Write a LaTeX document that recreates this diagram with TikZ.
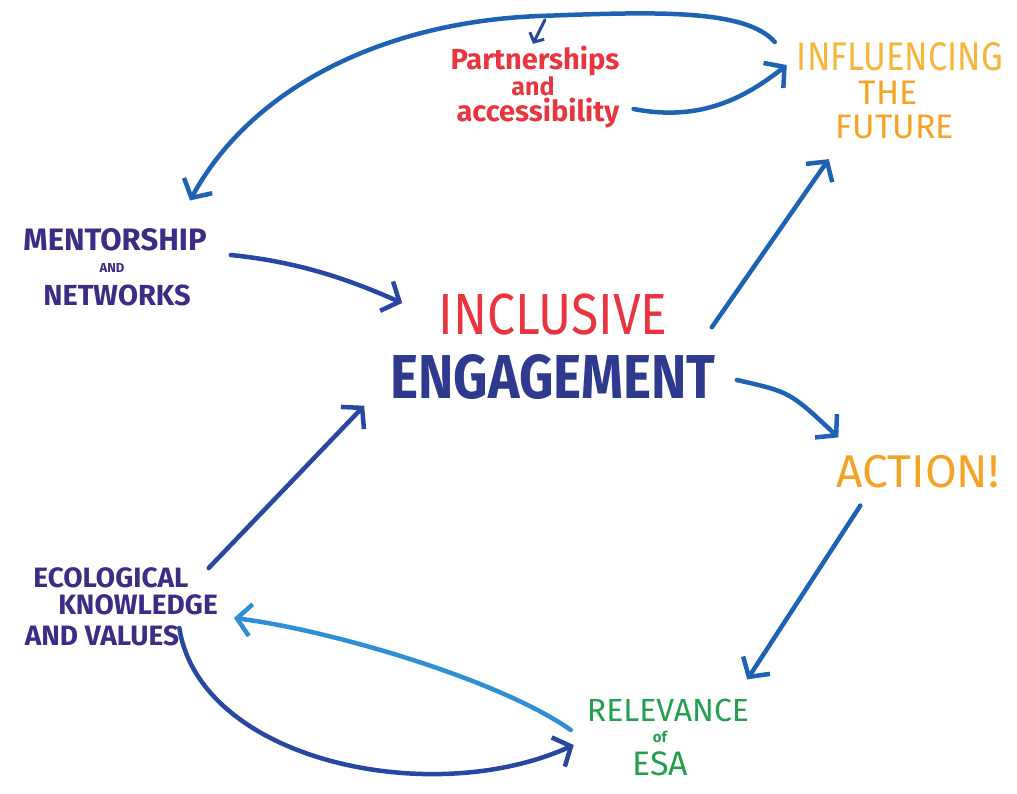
\documentclass[tikz,border=0pt]{standalone}
\usepackage{fontspec}
\newfontfamily\mano[FakeStretch=0.86]{Fira Sans}
\newfontfamily\letra{Fira Sans}
\usetikzlibrary{arrows.meta}

\definecolor{rojo}{HTML}{E8353F}
\definecolor{naranja}{HTML}{F4A425}
\definecolor{amarillo}{HTML}{F5B63C}
\definecolor{morado}{HTML}{3B2C85}
\definecolor{azulosc}{HTML}{2E3A8E}
\definecolor{verde}{HTML}{22A04C}
\definecolor{azul}{HTML}{1E62B4}
\definecolor{azulmed}{HTML}{2747A2}
\definecolor{celeste}{HTML}{2E8FD6}

\tikzset{
  texto/.style={inner sep=0pt},
  flecha/.style={line width=4.5pt, line cap=round, azul,
    -{Straight Barb[length=14pt,width=32pt]}},
}

\begin{document}
\begin{tikzpicture}[x=1pt,y=-1pt]
\useasboundingbox (0,0) rectangle (1017,794);

% Centro
\node[texto, rojo, font=\mano\fontsize{58}{58}\selectfont] (incl) at (553,315) {INCLUSIVE};
\node[texto, azulosc, font=\mano\bfseries\fontsize{62}{62}\selectfont] (eng) at (553,377) {ENGAGEMENT};

% Etiquetas
\node[texto, rojo, font=\letra\bfseries\fontsize{29}{29}\selectfont] (part1) at (535,61) {Partnerships};
\node[texto, rojo, font=\letra\bfseries\fontsize{25}{25}\selectfont] (part2) at (533,86) {and};
\node[texto, rojo, font=\letra\bfseries\fontsize{29}{29}\selectfont] (part3) at (538,113) {accessibility};

\node[texto, amarillo, font=\mano\fontsize{40}{40}\selectfont] (inf1) at (900,57) {INFLUENCING};
\node[texto, naranja, font=\letra\fontsize{34}{34}\selectfont] (inf2) at (888,93) {THE};
\node[texto, naranja, font=\letra\fontsize{34}{34}\selectfont] (inf3) at (895,127) {FUTURE};

\node[texto, morado, font=\letra\bfseries\fontsize{31}{31}\selectfont] (ment1) at (115,240) {MENTORSHIP};
\node[texto, morado, font=\letra\bfseries\fontsize{13}{13}\selectfont] (ment2) at (112,268) {AND};
\node[texto, morado, font=\letra\bfseries\fontsize{29}{29}\selectfont] (ment3) at (117,295) {NETWORKS};

\node[texto, naranja, font=\letra\fontsize{46}{46}\selectfont] (acc) at (918,472) {ACTION!};

\node[texto, morado, font=\letra\bfseries\fontsize{28}{28}\selectfont] (eco1) at (111,578) {ECOLOGICAL};
\node[texto, morado, font=\letra\bfseries\fontsize{28}{28}\selectfont] (eco2) at (138,605) {KNOWLEDGE};
\node[texto, morado, font=\letra\bfseries\fontsize{28}{28}\selectfont] (eco3) at (102,636) {AND VALUES};

\node[texto, verde, font=\letra\fontsize{32}{32}\selectfont] (rel1) at (668,710) {RELEVANCE};
\node[texto, verde, font=\letra\bfseries\fontsize{15}{15}\selectfont] (rel2) at (660,737) {of};
\node[texto, verde, font=\letra\fontsize{34}{34}\selectfont] (rel3) at (660,764) {ESA};

% Flechas
\draw[flecha] ([shift={(-22,-15)}]inf1.west) .. controls (745,8) and (650,12) .. (540,16)
  .. controls (380,22) and (250,90) .. ([shift={(75,-28)}]ment1.north);
\draw[flecha, azulmed, line width=3pt, -{Straight Barb[length=7pt,width=16pt]}]
  ([shift={(10,-26)}]part1.north) -- ([shift={(-2,-2)}]part1.north);
\draw[flecha] ([shift={(14,-4)}]part3.east) .. controls (700,122) and (745,98) .. ([shift={(-10,8)}]inf1.west);
\draw[flecha, azulmed] ([shift={(24,15)}]ment1.east) .. controls (300,262) and (350,280) .. ([shift={(-36,-12)}]incl.west);
\draw[flecha] ([shift={(-4,-27)}]eng.north east) -- ([shift={(-7,20)}]inf3.south west);
\draw[flecha] ([shift={(21,3)}]eng.east) .. controls (790,392) .. ([shift={(2,-18)}]acc.north west);
\draw[flecha] ([shift={(24,17)}]acc.south west) -- ([shift={(-2,-19)}]rel1.north east);
\draw[flecha, celeste] ([shift={(-16,20)}]rel1.west) .. controls (500,680) and (330,630) .. ([shift={(16,13)}]eco2.east);
\draw[flecha, azulmed] ([shift={(0,-8)}]eco3.east) .. controls (200,760) and (430,810) .. ([shift={(-13,35)}]rel1.west);
\draw[flecha, azulmed] ([shift={(20,-10)}]eco1.east) -- ([shift={(-26,6)}]eng.south west);

\end{tikzpicture}
\end{document}
